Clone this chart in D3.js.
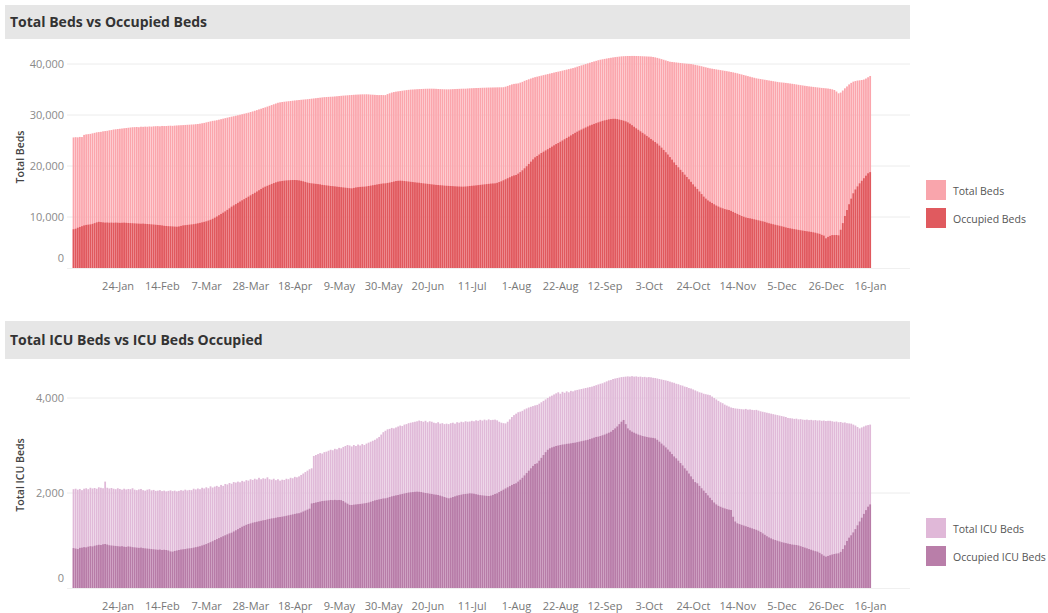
<!DOCTYPE html>
<html>
<head>
<meta charset="utf-8">
<script src="https://cdn.jsdelivr.net/npm/d3@7/dist/d3.min.js"></script>
<style>
  html, body { margin: 0; padding: 0; background: #fff; }
  svg { display: block; font-family: "Open Sans", "Noto Sans", sans-serif; }
</style>
</head>
<body>
<svg id="chart" width="1048" height="613"></svg>
<script>
// ---------- DATA ----------
const startDate = "2021-01-03"; // first daily bar
const xTickDates = ["2021-01-24","2021-02-14","2021-03-07","2021-03-28","2021-04-18","2021-05-09","2021-05-30","2021-06-20","2021-07-11","2021-08-01","2021-08-22","2021-09-12","2021-10-03","2021-10-24","2021-11-14","2021-12-05","2021-12-26","2022-01-16"];
const bedsTicks = [0, 10000, 20000, 30000, 40000];
const icuTicks = [0, 2000, 4000];

const totalBeds = [
25600,25650,25620,25700,25680,26100,26200,26250,26300,26400,
26500,26600,26650,26700,26800,26850,26900,27000,27050,27150,
27200,27250,27300,27350,27400,27450,27500,27550,27600,27620,
27650,27600,27700,27680,27720,27700,27750,27720,27780,27800,
27820,27780,27850,27830,27840,27880,27900,27870,27920,27950,
27980,28000,28020,28050,28080,28100,28130,28150,28200,28240,
28300,28380,28450,28550,28650,28750,28850,28900,28980,29080,
29180,29280,29380,29480,29580,29670,29760,29850,29950,30050,
30150,30250,30350,30450,30580,30700,30830,30960,31100,31230,
31380,31500,31650,31800,31950,32100,32250,32400,32480,32550,
32600,32650,32700,32750,32800,32850,32900,32940,32980,33020,
33060,33100,33150,33200,33250,33300,33350,33400,33450,33500,
33520,33550,33580,33600,33640,33680,33720,33760,33800,33830,
33860,33900,33930,33960,33990,34010,34030,34050,34050,34060,
34040,34000,33980,33950,33920,33900,33920,33900,33900,34100,
34250,34400,34500,34580,34640,34700,34760,34820,34880,34930,
34980,35000,35030,35060,35080,35100,35120,35140,35150,35160,
35160,35150,35130,35100,35080,35060,35040,35030,35030,35050,
35070,35090,35110,35130,35150,35160,35160,35200,35230,35250,
35270,35290,35300,35320,35340,35350,35370,35380,35390,35400,
35410,35420,35430,35430,35450,35550,35700,35850,36000,36100,
36150,36200,36350,36500,36700,36850,37000,37150,37300,37420,
37520,37620,37720,37820,37920,38020,38120,38220,38320,38420,
38500,38600,38700,38800,38900,39000,39100,39200,39320,39470,
39600,39730,39860,39990,40120,40250,40380,40500,40620,40740,
40840,40920,41000,41080,41150,41220,41290,41350,41400,41450,
41500,41530,41550,41570,41570,41580,41580,41570,41560,41540,
41520,41500,41480,41460,41440,41380,41300,41200,41080,40960,
40830,40700,40570,40450,40400,40350,40300,40250,40200,40150,
40100,40060,40030,40000,39920,39830,39740,39650,39560,39450,
39350,39250,39150,39080,39010,38940,38870,38800,38730,38660,
38590,38520,38440,38360,38270,38170,38060,37950,37840,37730,
37620,37510,37400,37300,37190,37120,37050,36980,36910,36840,
36770,36700,36630,36560,36490,36420,36380,36340,36290,36240,
36180,36120,36060,35990,35920,35850,35790,35730,35670,35610,
35560,35510,35460,35410,35360,35310,35270,35230,35190,35120,
35030,34900,34600,34250,34400,34800,35230,35600,36000,36300,
36540,36650,36750,36800,36860,36950,37150,37400,37650
];

const occupiedBeds = [
7600,7700,7900,8050,8200,8350,8450,8500,8550,8650,
8800,8950,9050,9000,8950,8900,8920,8880,8900,8870,
8900,8880,8850,8870,8890,8860,8830,8800,8780,8750,
8720,8700,8680,8700,8660,8630,8600,8560,8520,8480,
8440,8400,8350,8280,8240,8200,8180,8150,8120,8100,
8150,8250,8350,8400,8450,8500,8550,8600,8680,8760,
8850,8950,9050,9150,9300,9450,9650,9870,10100,10350,
10600,10850,11100,11400,11700,12030,12280,12530,12780,13030,
13270,13500,13750,13990,14250,14500,14750,15000,15250,15500,
15750,15950,16120,16300,16480,16650,16800,16930,17000,17070,
17120,17170,17200,17230,17250,17250,17230,17180,17100,17000,
16880,16750,16650,16600,16550,16500,16450,16400,16300,16250,
16200,16150,16080,16050,16000,15950,15900,15850,15800,15750,
15700,15650,15620,15700,15800,15850,15900,15930,15950,16000,
16080,16150,16230,16300,16380,16450,16520,16580,16600,16680,
16750,16850,16950,17050,17100,17120,17100,17050,17000,16950,
16900,16850,16800,16750,16720,16650,16600,16550,16500,16450,
16400,16350,16300,16270,16230,16200,16150,16120,16100,16080,
16050,16020,16000,15980,15960,15950,15980,16020,16080,16120,
16160,16200,16250,16300,16350,16400,16450,16500,16550,16580,
16600,16700,16850,17000,17200,17400,17600,17800,18000,18150,
18240,18500,18800,19150,19550,19950,20400,20850,21300,21700,
21960,22250,22550,22800,23050,23300,23550,23800,24050,24300,
24500,24750,25000,25250,25500,25750,26000,26250,26500,26730,
26950,27150,27350,27550,27750,27950,28100,28250,28400,28550,
28700,28850,28950,29050,29150,29220,29250,29250,29200,29100,
29000,28890,28750,28550,28300,28000,27700,27390,27100,26800,
26500,26200,25900,25600,25300,25000,24700,24400,24000,23600,
23150,22700,22250,21750,21250,20700,20200,19750,19250,18800,
18300,17850,17400,16900,16400,15950,15500,15000,14500,14000,
13600,13250,13000,12750,12500,12250,12050,11850,11700,11550,
11450,11370,11200,11000,10800,10600,10400,10200,10050,9900,
9800,9740,9650,9550,9450,9350,9250,9150,9050,8900,
8780,8680,8580,8480,8380,8280,8180,8080,7950,7850,
7780,7700,7620,7550,7480,7400,7330,7260,7200,7140,
7080,7000,6920,6800,6700,6500,6350,5820,6100,6300,
6450,6450,6470,6400,7500,8800,10200,11370,12500,13600,
14650,15400,16000,16600,17100,17600,18100,18570,18800
];

const totalICU = [
2080,2090,2070,2085,2060,2090,2100,2080,2110,2095,
2105,2090,2120,2110,2100,2240,2110,2095,2105,2090,
2080,2100,2085,2070,2090,2075,2085,2080,2100,2070,
2060,2075,2085,2060,2050,2070,2080,2055,2065,2045,
2050,2060,2040,2050,2035,2045,2055,2040,2050,2035,
2045,2060,2050,2070,2055,2065,2060,2090,2075,2095,
2080,2110,2095,2120,2100,2140,2115,2135,2150,2130,
2170,2150,2190,2180,2210,2195,2230,2220,2240,2225,
2255,2240,2270,2260,2290,2275,2300,2285,2320,2290,
2310,2300,2330,2290,2280,2300,2270,2290,2260,2280,
2275,2300,2290,2320,2310,2340,2330,2350,2380,2410,
2440,2470,2500,2520,2780,2800,2820,2840,2830,2860,
2870,2890,2910,2900,2930,2920,2950,2940,2970,2990,
3010,3000,2980,3010,2990,3020,3000,3030,3010,3040,
3060,3080,3100,3120,3150,3180,3230,3280,3310,3340,
3350,3370,3360,3380,3400,3420,3410,3440,3450,3470,
3480,3490,3500,3510,3525,3515,3500,3520,3490,3510,
3500,3480,3470,3490,3460,3470,3450,3460,3450,3470,
3480,3460,3490,3480,3500,3490,3510,3500,3505,3520,
3510,3530,3520,3540,3525,3545,3530,3550,3535,3540,
3545,3530,3500,3480,3470,3465,3500,3550,3600,3640,
3670,3700,3712,3730,3760,3780,3800,3815,3830,3845,
3855,3880,3910,3940,3970,4000,4030,4050,4075,4098,
4120,4090,4130,4110,4140,4120,4150,4140,4160,4170,
4180,4190,4200,4210,4220,4230,4240,4255,4270,4285,
4300,4310,4330,4350,4370,4380,4400,4410,4420,4430,
4440,4445,4450,4455,4450,4460,4450,4455,4445,4450,
4440,4445,4435,4440,4435,4425,4420,4410,4400,4390,
4380,4370,4360,4345,4330,4320,4300,4290,4270,4260,
4240,4230,4210,4200,4180,4160,4140,4120,4110,4090,
4080,4070,4060,4030,4000,3970,3940,3910,3890,3860,
3840,3820,3800,3790,3780,3775,3770,3765,3760,3770,
3755,3760,3750,3745,3750,3735,3720,3710,3700,3690,
3680,3670,3660,3650,3640,3630,3620,3610,3600,3580,
3575,3570,3560,3565,3550,3555,3545,3540,3545,3535,
3540,3530,3535,3525,3530,3520,3525,3515,3520,3520,
3510,3500,3505,3490,3495,3480,3485,3470,3465,3460,
3440,3420,3390,3360,3380,3400,3420,3430,3440
];

const occupiedICU = [
840,830,820,845,850,860,855,870,880,875,
890,900,910,905,920,926,915,900,895,890,
885,880,875,880,870,865,875,870,860,855,
850,845,850,840,835,830,825,820,815,810,
805,810,800,805,800,790,770,765,780,790,
800,810,815,820,830,835,840,850,860,870,
880,895,910,925,945,965,985,1010,1030,1050,
1070,1090,1110,1130,1150,1165,1190,1215,1240,1265,
1290,1310,1330,1347,1360,1375,1385,1395,1405,1415,
1425,1432,1445,1455,1465,1470,1480,1490,1495,1502,
1510,1520,1530,1540,1550,1560,1570,1575,1590,1610,
1630,1650,1670,1780,1790,1800,1810,1820,1830,1835,
1840,1845,1853,1850,1855,1850,1853,1850,1830,1800,
1775,1750,1747,1755,1760,1765,1770,1775,1782,1790,
1800,1815,1830,1845,1855,1865,1875,1885,1888,1900,
1915,1930,1940,1950,1958,1970,1980,1990,2000,2010,
2015,2020,2025,2028,2025,2020,2010,2000,1995,1985,
1980,1970,1965,1958,1945,1930,1915,1900,1888,1900,
1915,1930,1945,1955,1965,1975,1980,1985,1993,1990,
1985,1975,1965,1955,1950,1945,1940,1937,1945,1960,
1980,1993,2020,2045,2070,2095,2120,2145,2170,2190,
2204,2240,2280,2320,2370,2420,2470,2520,2570,2610,
2625,2680,2740,2800,2860,2910,2941,2960,2975,2990,
3000,3010,3020,3025,3035,3040,3046,3055,3060,3070,
3080,3090,3100,3110,3120,3135,3150,3165,3180,3186,
3200,3215,3230,3250,3270,3290,3326,3360,3400,3450,
3500,3537,3450,3360,3320,3291,3270,3250,3230,3215,
3200,3190,3180,3170,3165,3160,3151,3120,3080,3040,
3000,2960,2915,2870,2820,2770,2730,2680,2630,2580,
2520,2470,2410,2350,2290,2230,2204,2150,2100,2050,
2000,1950,1900,1850,1800,1760,1730,1710,1690,1675,
1660,1650,1642,1500,1400,1362,1345,1330,1315,1300,
1285,1270,1255,1240,1225,1205,1180,1150,1120,1090,
1065,1045,1025,1010,995,980,965,955,945,935,
925,915,910,905,895,880,865,850,835,820,
805,790,775,765,740,710,680,660,675,690,
705,715,725,730,760,820,900,990,1060,1110,
1170,1240,1320,1400,1480,1560,1640,1712,1760
];

// ---------- LAYOUT ----------
const svg = d3.select("#chart");
const parse = d3.timeParse("%Y-%m-%d");
const fmt = d3.timeFormat("%-d-%b");
const t0 = parse(startDate);
const dates = totalBeds.map((_, i) => d3.timeDay.offset(t0, i));

const x = d3.scaleTime()
  .domain([parse("2020-12-31"), parse("2022-02-04")])
  .range([67, 910]);
const step = x(d3.timeDay.offset(t0, 1)) - x(t0);
const barW = step * 0.84;

function panel(cfg) {
  const g = svg.append("g");
  // title band
  g.append("rect").attr("x", 5).attr("y", cfg.bandY).attr("width", 905).attr("height", cfg.bandH)
    .attr("fill", "#e6e6e6");
  g.append("text").attr("x", 10).attr("y", cfg.bandY + cfg.bandH / 2).attr("dy", "0.35em")
    .attr("font-size", 14).attr("font-weight", 700).attr("fill", "#333")
    .text(cfg.title);

  const y = d3.scaleLinear().domain([0, cfg.ymax]).range([cfg.y0, cfg.y1]);

  // gridlines
  g.append("g").selectAll("line").data(cfg.ticks.filter(d => d > 0)).join("line")
    .attr("x1", 67).attr("x2", 910)
    .attr("y1", d => y(d)).attr("y2", d => y(d))
    .attr("stroke", "#ececec").attr("stroke-width", 1);
  g.append("line").attr("x1", 67).attr("x2", 910).attr("y1", cfg.y0 + 0.5).attr("y2", cfg.y0 + 0.5)
    .attr("stroke", "#f0f0f0");

  // bars: total behind, occupied in front
  g.append("g").selectAll("rect").data(cfg.total).join("rect")
    .attr("x", (d, i) => x(dates[i]) - barW / 2 + step * 0.1)
    .attr("width", barW)
    .attr("y", d => y(d))
    .attr("height", d => y(0) - y(d))
    .attr("fill", cfg.cTotal);
  g.append("g").selectAll("rect").data(cfg.occ).join("rect")
    .attr("x", (d, i) => x(dates[i]) - barW / 2 + step * 0.1)
    .attr("width", barW)
    .attr("y", d => y(d))
    .attr("height", d => y(0) - y(d))
    .attr("fill", cfg.cOcc);

  // y axis
  const ya = g.append("g").attr("transform", "translate(64,0)")
    .call(d3.axisLeft(y).tickValues(cfg.ticks).tickSize(0).tickPadding(0).tickFormat(d3.format(",")));
  ya.select(".domain").remove();
  ya.selectAll("text").attr("font-size", 11).attr("fill", "#8a8a8a")
    .attr("font-family", "'Open Sans', sans-serif")
    .attr("dy", d => d === 0 ? "-0.55em" : "0.32em");

  // y axis title
  g.append("text")
    .attr("transform", `translate(${20},${cfg.titleY}) rotate(-90)`)
    .attr("text-anchor", "middle").attr("dy", "0.35em")
    .attr("font-size", 10.5).attr("font-weight", 600).attr("fill", "#444")
    .text(cfg.yTitle);

  // x axis
  const xa = g.append("g").attr("transform", `translate(0,${cfg.y0})`)
    .call(d3.axisBottom(x).tickValues(xTickDates.map(parse)).tickSize(0).tickPadding(14).tickFormat(fmt));
  xa.select(".domain").remove();
  xa.selectAll("text").attr("font-size", 11).attr("fill", "#777")
    .attr("font-family", "'Open Sans', sans-serif");

  // legend
  const lg = g.append("g");
  cfg.legend.forEach((L, k) => {
    lg.append("rect").attr("x", 926).attr("y", cfg.legY + k * 28).attr("width", 20).attr("height", 20)
      .attr("fill", L.c);
    lg.append("text").attr("x", 953).attr("y", cfg.legY + k * 28 + 11).attr("dy", "0.35em")
      .attr("font-size", 10.5).attr("fill", "#555").text(L.t);
  });
}

panel({
  title: "Total Beds vs Occupied Beds", bandY: 5, bandH: 34,
  ymax: 40000, y0: 268, y1: 64, ticks: bedsTicks,
  total: totalBeds, occ: occupiedBeds,
  cTotal: "#fba5ac", cOcc: "#e0585d",
  yTitle: "Total Beds", titleY: 157,
  legY: 180,
  legend: [{t: "Total Beds", c: "#f9a5ac"}, {t: "Occupied Beds", c: "#e05a5f"}]
});

panel({
  title: "Total ICU Beds vs ICU Beds Occupied", bandY: 321, bandH: 38,
  ymax: 4000, y0: 588, y1: 398, ticks: icuTicks,
  total: totalICU, occ: occupiedICU,
  cTotal: "#e0b9d8", cOcc: "#b77ba7",
  yTitle: "Total ICU Beds", titleY: 475,
  legY: 518,
  legend: [{t: "Total ICU Beds", c: "#e0b8d8"}, {t: "Occupied ICU Beds", c: "#b97ea9"}]
});
</script>
</body>
</html>
